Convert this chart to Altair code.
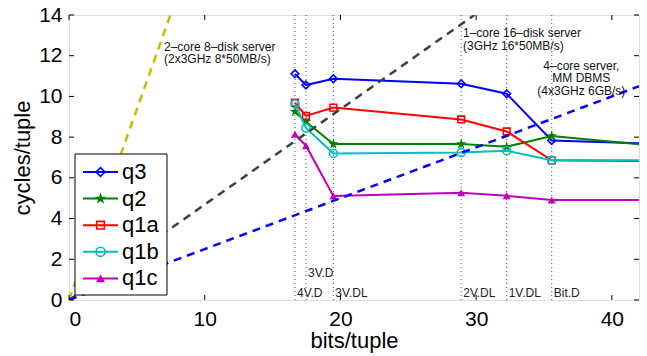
import altair as alt
import pandas as pd

# ---------------- data ----------------
x_pts = [16.65, 17.46, 19.48, 28.9, 32.25, 35.57]
x_edge = 42
series = ["q3", "q2", "q1a", "q1b", "q1c"]
q3 = [11.11, 10.56, 10.87, 10.62, 10.13, 7.84]
q2 = [9.25, 8.76, 7.66, 7.66, 7.53, 8.06]
q1a = [9.69, 9.04, 9.45, 8.87, 8.28, 6.86]
q1b = [9.63, 8.45, 7.20, 7.24, 7.33, 6.86]
q1c = [8.14, 7.58, 5.11, 5.27, 5.12, 4.91]
edge_vals = [7.70, 7.65, 6.83, 6.86, 4.91]
all_vals = [q3, q2, q1a, q1b, q1c]

enc_labels = ["4V.D", "3V.D", "3V.DL", "2V.DL", "1V.DL", "Bit.D"]
enc_label_y = [0.36, 1.34, 0.36, 0.36, 0.36, 0.36]

ref_names = ["2-core 8-disk", "1-core 16-disk", "4-core MM"]
ref_x_end = [7.47, 29.87, 42.0]
ref_y_end = [14.0, 14.0, 10.5]

ann_left_text = ["2–core 8–disk server\n(2x3GHz 8*50MB/s)",
                 "1–core 16–disk server\n(3GHz 16*50MB/s)"]
ann_left_x = [7.0, 29.03]
ann_left_y = [12.44, 13.10]
ann_center_text = ["4–core server,\nMM DBMS\n(4x3GHz 6GB/s)"]
ann_center_x = [37.75]
ann_center_y = [11.50]

x_ticks = [0, 10, 20, 30, 40]
y_ticks = [0, 2, 4, 6, 8, 10, 12, 14]

# ---------------- styles ----------------
FONT = "Liberation Sans"
W, H = 570, 285
colors = ["#0000ff", "#008000", "#ff0000", "#00bfbf", "#bf00bf"]
STAR = ("M0,-1L0.225,-0.309L0.951,-0.309L0.363,0.118L0.588,0.809L0,0.382"
        "L-0.588,0.809L-0.363,0.118L-0.951,-0.309L-0.225,-0.309Z")
shapes = ["diamond", STAR, "square", "circle", "triangle-up"]
filled = [False, True, False, False, True]
sizes = [60, 120, 45, 64, 64]
ref_colors = ["#c0c000", "#404040", "#0000ff"]

xs = alt.Scale(domain=[0, 42], nice=False, zero=False)
ys = alt.Scale(domain=[0, 14], nice=False, zero=False)
x_axis = alt.Axis(values=x_ticks, tickSize=0, domain=False, grid=False,
                  labelFontSize=21, titleFontSize=22, labelPadding=8,
                  titlePadding=1, titleFontWeight="normal", title="bits/tuple",
                  labelColor="black", titleColor="black", labelFont=FONT, titleFont=FONT)
y_axis = alt.Axis(values=y_ticks, tickSize=0, domain=False, grid=False,
                  labelFontSize=21, titleFontSize=22, labelPadding=7,
                  titlePadding=4, titleFontWeight="normal", title="cycles/tuple",
                  labelColor="black", titleColor="black", labelFont=FONT, titleFont=FONT)


def X(field):
    return alt.X(field, type="quantitative", scale=xs, axis=x_axis)


def Y(field):
    return alt.Y(field, type="quantitative", scale=ys, axis=y_axis)


layers = []

# vertical dotted lines
vdf = pd.DataFrame({"x": x_pts, "label": enc_labels, "ly": enc_label_y,
                    "y0": [0] * 6, "y1": [14] * 6})
layers.append(alt.Chart(vdf).mark_rule(color="#555555", strokeWidth=1, strokeDash=[1, 3])
              .encode(x=X("x"), y=Y("y0"), y2="y1"))
layers.append(alt.Chart(vdf).mark_text(align="left", baseline="middle", dx=2,
                                       fontSize=12, font=FONT, color="#222222")
              .encode(x=X("x"), y=Y("ly"), text="label:N"))

# series
for name, vals, edge, col, shp, fl, sz in zip(series, all_vals, edge_vals, colors,
                                              shapes, filled, sizes):
    ldf = pd.DataFrame({"x": x_pts + [x_edge], "y": vals + [edge]})
    pdf = pd.DataFrame({"x": x_pts, "y": vals})
    layers.append(alt.Chart(ldf).mark_line(color=col, strokeWidth=2, clip=True)
                  .encode(x=X("x"), y=Y("y")))
    layers.append(alt.Chart(pdf).mark_point(shape=shp, filled=fl, color=col, size=sz,
                                            strokeWidth=1.6, opacity=1)
                  .encode(x=X("x"), y=Y("y")))

# reference dashed lines
for name, xe, ye, col in zip(ref_names, ref_x_end, ref_y_end, ref_colors):
    rdf = pd.DataFrame({"x": [0, xe], "y": [0, ye]})
    layers.append(alt.Chart(rdf).mark_line(color=col, strokeWidth=2.5, strokeDash=[8, 6],
                                           clip=True)
                  .encode(x=X("x"), y=Y("y")))

# annotations
adf = pd.DataFrame({"x": ann_left_x, "y": ann_left_y, "t": ann_left_text})
layers.append(alt.Chart(adf).mark_text(align="left", baseline="middle", fontSize=12,
                                       lineBreak="\n", lineHeight=12.5,
                                       font=FONT, color="#111111")
              .encode(x=X("x"), y=Y("y"), text="t:N"))
cdf = pd.DataFrame({"x": ann_center_x, "y": ann_center_y, "t": ann_center_text})
layers.append(alt.Chart(cdf).mark_text(align="center", baseline="middle", fontSize=12,
                                       lineBreak="\n", lineHeight=12.5,
                                       font=FONT, color="#111111")
              .encode(x=X("x"), y=Y("y"), text="t:N"))

# inside ticks (matlab style) on all four sides
xt = pd.DataFrame({"x": x_ticks})
layers.append(alt.Chart(xt).mark_rule(color="black", strokeWidth=1)
              .encode(x=X("x"), y=alt.value(H), y2=alt.value(H - 5)))
layers.append(alt.Chart(xt).mark_rule(color="black", strokeWidth=1)
              .encode(x=X("x"), y=alt.value(0), y2=alt.value(5)))
yt = pd.DataFrame({"y": y_ticks})
layers.append(alt.Chart(yt).mark_rule(color="black", strokeWidth=1)
              .encode(y=Y("y"), x=alt.value(0), x2=alt.value(5)))
layers.append(alt.Chart(yt).mark_rule(color="black", strokeWidth=1)
              .encode(y=Y("y"), x=alt.value(W), x2=alt.value(W - 5)))

# legend (drawn manually, pixel layout inside plot area)
LEG_X0, LEG_X1, LEG_Y0, LEG_Y1 = 6, 98, 139, 280
ROW0, ROW_STEP = 157, 26.6
one = pd.DataFrame({"a": [0]})
layers.append(alt.Chart(one).mark_rect(fill="white", stroke="black", strokeWidth=1)
              .encode(x=alt.value(LEG_X0), x2=alt.value(LEG_X1),
                      y=alt.value(LEG_Y0), y2=alt.value(LEG_Y1)))
for i, (name, col, shp, fl, sz) in enumerate(zip(series, colors, shapes, filled, sizes)):
    ry = ROW0 + i * ROW_STEP
    row = pd.DataFrame({"s": [name]})
    layers.append(alt.Chart(row).mark_rule(color=col, strokeWidth=2)
                  .encode(x=alt.value(14), x2=alt.value(49), y=alt.value(ry)))
    layers.append(alt.Chart(row).mark_point(shape=shp, filled=fl, color=col, size=sz * 1.3,
                                            strokeWidth=1.6, opacity=1)
                  .encode(x=alt.value(31.5), y=alt.value(ry)))
    layers.append(alt.Chart(row).mark_text(align="left", baseline="middle", fontSize=22,
                                           font=FONT, color="black")
                  .encode(x=alt.value(53), y=alt.value(ry), text="s:N"))

chart = alt.layer(*layers).properties(
    width=W, height=H,
    autosize=alt.AutoSizeParams(type="none"),
    padding={"left": 69, "top": 15, "right": 8, "bottom": 56},
).configure_view(stroke="black", strokeWidth=1).configure(background="white")

chart.save("out.html", embed_options={"renderer": "svg", "actions": False})
